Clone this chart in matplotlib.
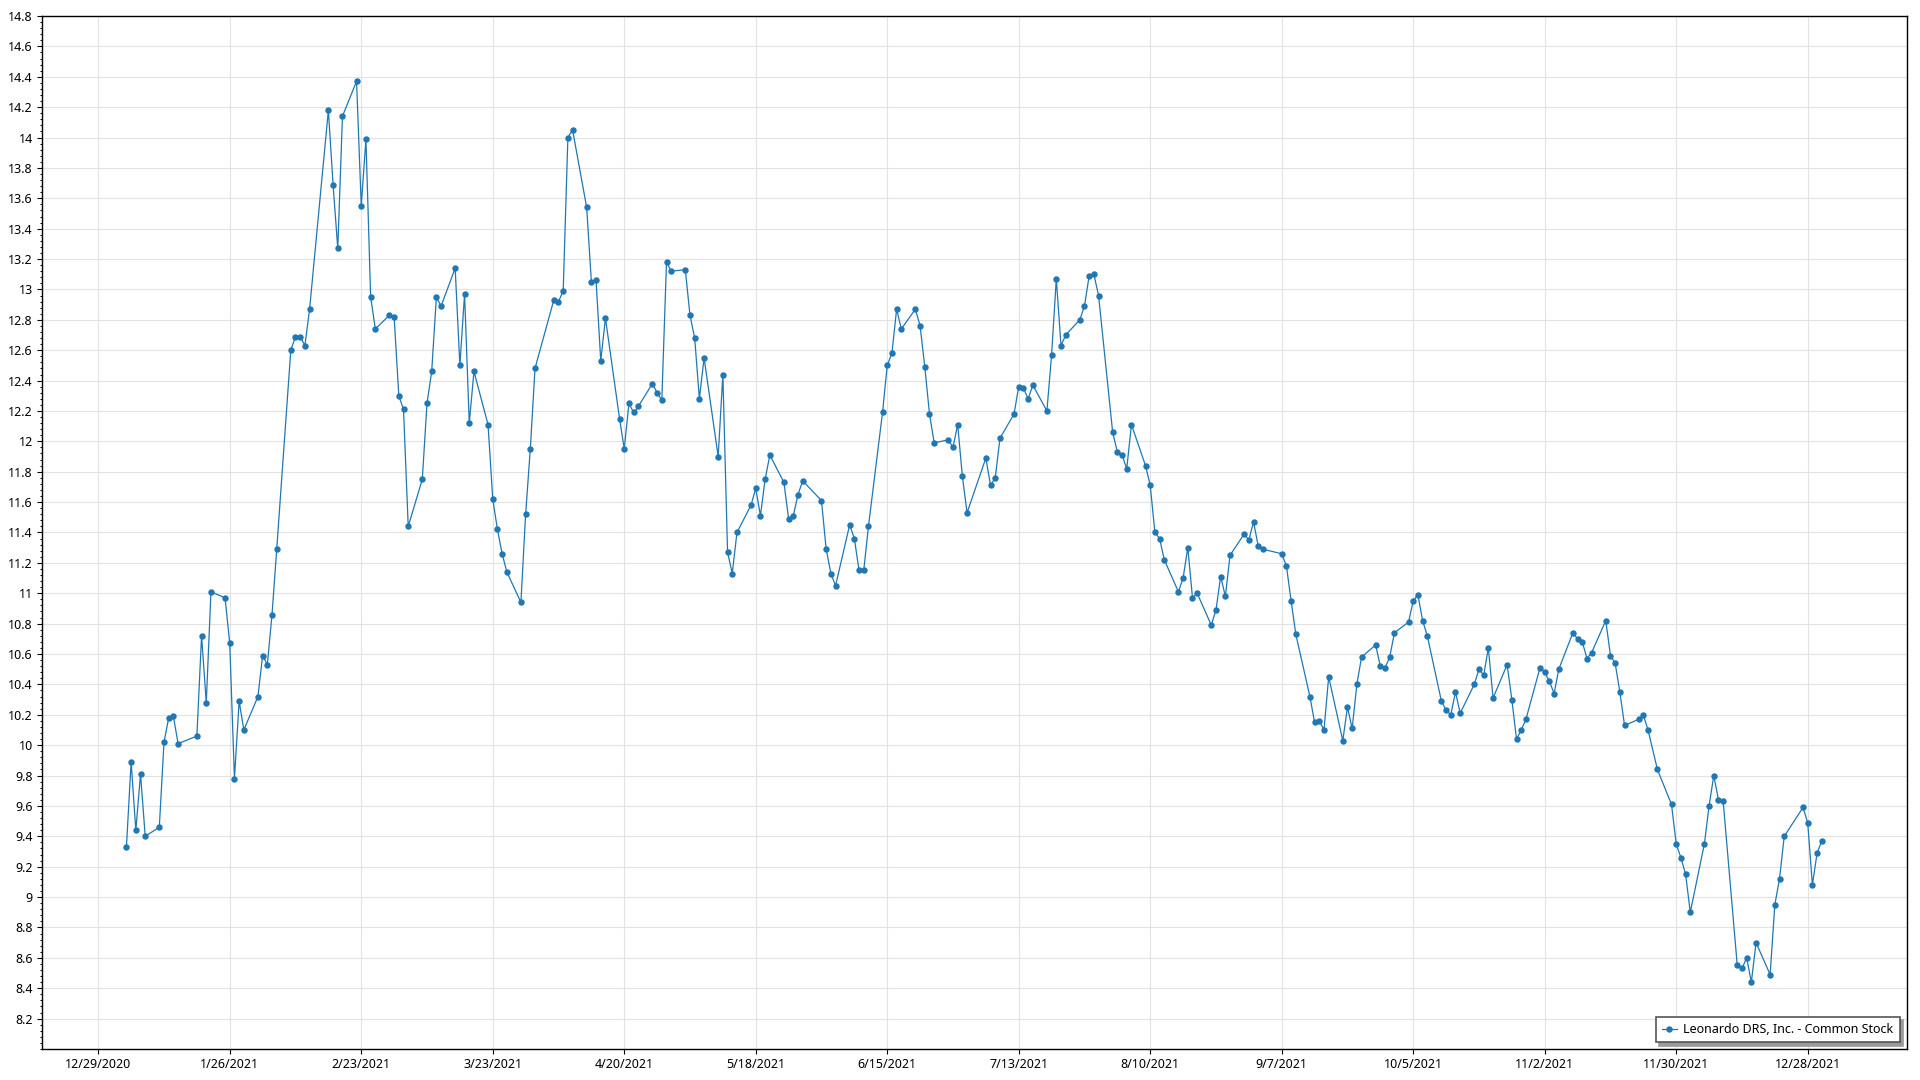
import matplotlib
matplotlib.use("Agg")
import matplotlib.pyplot as plt
from matplotlib.ticker import MultipleLocator, FuncFormatter
import pandas as pd

# NYSE holidays in 2021 (no trading days)
holidays = ["2021-01-01", "2021-01-18", "2021-02-15", "2021-04-02", "2021-05-31",
            "2021-07-05", "2021-09-06", "2021-11-25", "2021-12-24"]

# daily closing prices, one row per trading week
jan_mar = [
    9.33, 9.89, 9.44, 9.81, 9.40,
    9.46, 10.02, 10.18, 10.19, 10.01,
    10.06, 10.72, 10.28, 11.01,
    10.97, 10.67, 9.78, 10.29, 10.10,
    10.32, 10.59, 10.53, 10.86, 11.29,
    12.60, 12.69, 12.69, 12.63, 12.87,
    14.18, 13.69, 13.27, 14.14,
    14.37, 13.55, 13.99, 12.95, 12.74,
    12.83, 12.82, 12.30, 12.21, 11.44,
    11.75, 12.25, 12.46, 12.95, 12.89,
    13.14, 12.50, 12.97, 12.12, 12.46,
    12.11, 11.62, 11.42, 11.26, 11.14,
    10.94, 11.52, 11.95,
]
apr_jun = [
    12.48,
    12.93, 12.92, 12.99, 14.00, 14.05,
    13.54, 13.05, 13.06, 12.53, 12.81,
    12.15, 11.95, 12.25, 12.19, 12.23,
    12.38, 12.32, 12.27, 13.18, 13.12,
    13.13, 12.83, 12.68, 12.28, 12.55,
    11.90, 12.44, 11.27, 11.13, 11.40,
    11.58, 11.69, 11.51, 11.75, 11.91,
    11.73, 11.49, 11.51, 11.65, 11.74,
    11.61, 11.29, 11.13, 11.05,
    11.45, 11.36, 11.15, 11.15, 11.44,
    12.19, 12.50, 12.58, 12.87, 12.74,
    12.87, 12.76, 12.49, 12.18, 11.99,
    12.01, 11.96, 12.11,
]
jul_sep = [
    11.77, 11.53,
    11.89, 11.71, 11.76, 12.02,
    12.18, 12.36, 12.35, 12.28, 12.37,
    12.20, 12.57, 13.07, 12.63, 12.70,
    12.80, 12.89, 13.09, 13.10, 12.96,
    12.06, 11.93, 11.91, 11.82, 12.11,
    11.84, 11.71, 11.40, 11.36, 11.22,
    11.01, 11.10, 11.30, 10.97, 11.00,
    10.79, 10.89, 11.11, 10.98, 11.25,
    11.39, 11.35, 11.47, 11.31, 11.29,
    11.26, 11.18, 10.95, 10.73,
    10.32, 10.15, 10.16, 10.10, 10.45,
    10.03, 10.25, 10.11, 10.40, 10.58,
    10.66, 10.52, 10.51, 10.58,
]
oct_dec = [
    10.74,
    10.81, 10.95, 10.99, 10.82, 10.72,
    10.29, 10.23, 10.20, 10.35, 10.21,
    10.40, 10.50, 10.46, 10.64, 10.31,
    10.53, 10.30, 10.04, 10.10, 10.17,
    10.51, 10.48, 10.42, 10.34, 10.50,
    10.74, 10.70, 10.68, 10.57, 10.61,
    10.82, 10.59, 10.54, 10.35, 10.13,
    10.17, 10.20, 10.10, 9.84,
    9.61, 9.35, 9.26, 9.15, 8.90,
    9.35, 9.60, 9.80, 9.64, 9.63,
    8.55, 8.53, 8.60, 8.44, 8.70,
    8.49, 8.95, 9.12, 9.40,
    9.59, 9.49, 9.08, 9.29, 9.37,
]

series_name = "Leonardo DRS, Inc. - Common Stock"

prices = jan_mar + apr_jun + jul_sep + oct_dec
dates = pd.bdate_range("2021-01-04", "2021-12-31", freq="C", holidays=holidays)
assert len(dates) == len(prices)

plt.rcParams["font.family"] = ["Noto Sans", "DejaVu Sans"]
plt.rcParams["font.size"] = 9

fig = plt.figure(figsize=(19.2, 10.8), dpi=100)
ax = fig.add_axes([0.0217, 0.0287, 0.9713, 0.9565])

ax.plot(dates, prices, color="#1f77b4", lw=0.9, marker="o", markersize=3.6,
        label=series_name, zorder=3)

# x axis: ticks every 28 days, 5% padding around the data
span = dates[-1] - dates[0]
ax.set_xlim(dates[0] - span * 0.05, dates[-1] + span * 0.05)
xticks = pd.date_range("2020-12-29", periods=14, freq="28D")
ax.set_xticks(xticks)
ax.set_xticklabels([f"{d.month}/{d.day}/{d.year}" for d in xticks])

# y axis
ax.set_ylim(8.0, 14.8)
ax.set_yticks([8.2 + 0.2 * i for i in range(34)])
ax.yaxis.set_major_formatter(FuncFormatter(lambda v, p: f"{round(v, 1):g}"))
ax.yaxis.set_minor_locator(MultipleLocator(0.04))

ax.tick_params(axis="both", which="major", length=3.3, width=0.8, pad=3, colors="black")
ax.tick_params(axis="y", which="minor", length=1.8, width=0.7)
ax.grid(True, which="major", color="#e2e2e2", lw=0.8, zorder=0)
ax.set_axisbelow(True)
for sp in ax.spines.values():
    sp.set_color("black")
    sp.set_linewidth(1.0)

leg = ax.legend(loc="lower right", frameon=True, fancybox=False,
                shadow={"color": "#9a9a9a", "alpha": 1.0, "ox": 2.5, "oy": -2.5},
                edgecolor="#555555", handlelength=1.2, handletextpad=0.5,
                borderaxespad=0.55, borderpad=0.5, fontsize=9)
leg.get_frame().set_linewidth(1.2)

fig.savefig("out.png", dpi=100, facecolor="white")
